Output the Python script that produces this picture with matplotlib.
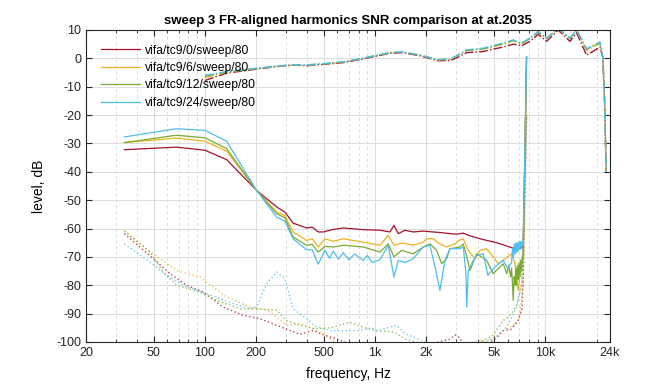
import numpy as np
import matplotlib
matplotlib.use("Agg")
import matplotlib.pyplot as plt
from matplotlib.ticker import FixedLocator, NullFormatter

plt.rcParams['font.family'] = ['Liberation Sans', 'DejaVu Sans']

labels = ["vifa/tc9/0/sweep/80", "vifa/tc9/6/sweep/80",
          "vifa/tc9/12/sweep/80", "vifa/tc9/24/sweep/80"]
colors = ["#A2142F", "#EDB120", "#77AC30", "#4DBEEE"]

# ---- harmonics SNR (solid) ----
snr0_f = [33.6, 68, 100, 134, 201, 264, 295, 330, 396, 427, 463, 497, 568, 650, 852, 1068,
          1223, 1290, 1368, 1497, 1675, 1917, 2400, 3000, 3300, 3500, 4130, 5177, 6632, 7300, 7417, 7760]
snr0_v = [-32.2, -31.3, -32.4, -35.7, -46.5, -52.4, -54.2, -58.1, -59.8, -59.5, -61.2, -61.2, -60.3, -59.8, -60.4, -60.6,
          -61.2, -58.9, -61.8, -60.6, -61.2, -60.9, -61.4, -62.0, -61.6, -62.3, -63.6, -65.0, -67.1, -66.8, -66.5, 0.5]

snr6_f = [33.6, 68, 100, 134, 201, 264, 295, 330, 396, 427, 463, 507, 568, 650, 852, 1068,
          1194, 1290, 1432, 1675, 1917, 2008, 2196, 2350, 2632, 2946, 3151, 3296, 3526, 3860, 4130,
          4520, 4944, 5290, 5660, 6340, 6632, 6786, 6937, 7097, 7260, 7417, 7760]
snr6_v = [-29.7, -28.1, -29.2, -32.7, -46.5, -54.2, -55.4, -61.2, -64.2, -63.6, -66.5, -63.6, -64.5, -63.6, -64.8, -65.9,
          -62.4, -65.9, -65.1, -65.9, -64.8, -63.6, -63.6, -65.1, -66.5, -65.4, -64.0, -63.6, -67.7, -70.6, -67.7,
          -67.1, -70.0, -72.4, -71.2, -68.9, -72.0, -78.0, -81.8, -76.0, -72.0, -70.0, 0.5]

snr12_f = [33.6, 68, 100, 134, 201, 264, 295, 330, 396, 427, 463, 507, 568, 650, 852, 1068,
           1194, 1290, 1432, 1675, 1917, 2100, 2300, 2460, 2632, 2752, 3151, 3296, 3479, 3608, 3950,
           4520, 4944, 5660, 5928, 6100, 6250, 6340, 6420, 6480, 6560, 6632, 6710, 6786, 6860, 6937,
           7020, 7097, 7180, 7260, 7340, 7417, 7760]
snr12_v = [-29.7, -27.1, -28.0, -31.8, -46.5, -54.8, -56.2, -63.0, -65.9, -65.6, -68.3, -66.3, -66.5, -65.9, -66.5, -68.3,
           -65.4, -70.0, -67.7, -68.9, -66.5, -65.4, -67.7, -72.4, -70.6, -67.1, -66.5, -65.4, -70.6, -74.8, -68.9,
           -71.2, -75.9, -72.4, -75.9, -73.0, -77.0, -74.0, -80.0, -85.3, -77.0, -80.0, -74.0, -80.0, -73.0, -78.0,
           -72.0, -77.0, -71.0, -75.0, -70.0, -70.0, 0.5]

snr24_f = [33.6, 68, 100, 134, 201, 264, 295, 330, 396, 427, 463, 507, 540, 568, 610, 650, 700, 760,
           852, 900, 960, 1068, 1194, 1290, 1368, 1497, 1675, 1917, 2100, 2250, 2404, 2573, 2752, 3151,
           3296, 3418, 3450, 3526, 3772, 3950, 4320, 4600, 4944, 5177, 5660, 6000, 6340, 6420, 6500, 6580,
           6650, 6720, 6786, 6860, 6940, 7020, 7097, 7180, 7260, 7340, 7417, 7760]
snr24_v = [-27.7, -24.8, -25.4, -29.2, -46.5, -56.0, -57.4, -63.6, -67.5, -67.5, -72.6, -67.7, -70.5, -68.0, -70.8, -68.5, -71.0, -69.0,
           -71.2, -69.5, -72.0, -71.0, -65.9, -77.1, -71.2, -72.0, -70.6, -66.5, -65.9, -73.6, -81.8, -71.2, -67.1, -67.1,
           -66.5, -75.9, -87.7, -75.0, -71.2, -69.5, -68.9, -76.5, -74.2, -73.0, -71.2, -74.0, -72.0, -67.0, -70.0, -65.5,
           -69.0, -65.0, -68.5, -65.0, -68.0, -64.5, -67.5, -64.5, -67.0, -64.5, -66.0, 0.5]

# ---- frequency response (dash-dot) ----
fr_f = [100, 134, 201, 264, 330, 396, 507, 650, 852, 932, 1222, 1462, 1834, 2320, 2752, 3014, 3450,
        4320, 4730, 5660, 6480, 7260, 8120, 9090, 10180, 11900, 13960, 15280, 17490, 20940, 21800, 22300, 22800]
fr0_v = [-7.8, -5.2, -3.8, -2.9, -2.4, -2.6, -2.1, -1.5, -0.2, 0.3, 1.8, 2.0, 0.9, -0.8, -0.8, 0.2, 2.0,
         2.4, 3.0, 4.0, 5.0, 4.4, 6.0, 8.5, 6.0, 10.0, 6.0, 9.0, 1.1, 4.0, 0.0, -15.0, -40.0]
fr6_v = [-6.8, -4.8, -3.6, -2.8, -2.3, -2.4, -1.9, -1.3, 0.0, 0.5, 2.0, 2.2, 1.1, -0.5, -0.4, 0.8, 2.7,
         3.3, 3.8, 5.0, 6.2, 5.0, 7.0, 9.3, 7.0, 10.5, 7.0, 9.9, 2.8, 5.3, 0.2, -15.0, -40.0]
fr12_v = [-6.3, -4.8, -3.6, -2.8, -2.3, -2.4, -1.9, -1.3, 0.0, 0.5, 2.0, 2.2, 1.1, -0.5, -0.3, 0.8, 2.8,
          3.4, 4.0, 5.2, 6.3, 5.2, 7.0, 9.3, 7.0, 10.5, 7.0, 9.9, 3.2, 5.6, 0.3, -15.0, -40.0]
fr24_v = [-6.0, -4.6, -3.5, -2.7, -2.2, -2.3, -1.8, -1.2, 0.1, 0.6, 2.1, 2.3, 1.2, -0.4, -0.3, 0.9, 3.0,
          3.6, 4.2, 5.4, 6.5, 5.4, 7.2, 9.5, 7.2, 10.5, 7.2, 10.0, 3.4, 5.8, 0.5, -15.0, -40.0]

# ---- noise / harmonics floor (dotted) ----
n0_f = [33.6, 49.7, 62.3, 78.1, 97.8, 128, 168, 210, 264, 362, 432, 500, 600, 700, 1000, 2000, 2750,
        2950, 3150, 3300, 4500, 5180, 5660, 6300, 6940, 7260, 7420, 7760]
n0_v = [-61.8, -70.6, -75.9, -80.0, -82.4, -87.7, -90.6, -91.8, -94.1, -97.3, -95.9, -97.5, -99.0, -100.5, -101, -101, -99.0,
        -97.5, -98.5, -101, -101, -98.5, -96.0, -95.5, -92.4, -88.8, -78.3, -20.0]
n6_f = [33.6, 49.7, 68.2, 93.6, 102, 134, 184, 231, 264, 301, 362, 432, 520, 600, 1000, 3000, 5000,
        5660, 6200, 6786, 7100, 7400, 7760]
n6_v = [-60.9, -68.9, -74.8, -77.1, -78.9, -84.1, -87.7, -88.8, -91.2, -94.1, -93.5, -95.3, -98.0, -100.5, -101, -101, -99.0,
        -96.0, -94.7, -93.5, -90.0, -80.0, -20.0]
n12_f = [33.6, 47.5, 56.9, 68.2, 93.6, 117, 161, 201, 264, 301, 362, 440, 550, 710, 850, 1000, 1300,
         1500, 2000, 4000, 4900, 5660, 6340, 6786, 7260, 7760]
n12_v = [-60.9, -68.3, -75.3, -80.0, -82.4, -85.3, -88.3, -88.3, -88.8, -92.4, -94.1, -95.3, -95.0, -93.0, -94.7, -96.0, -96.5,
         -99.0, -101, -100.5, -97.7, -92.4, -90.0, -87.0, -79.4, -20.0]
n24_f = [33.6, 47.5, 59.6, 78.1, 102, 147, 184, 201, 231, 264, 295, 330, 396, 452, 550, 800, 950,
         1025, 1332, 1500, 1800, 2200, 4500, 5180, 5928, 6786, 7260, 7760]
n24_v = [-65.4, -71.8, -76.5, -80.6, -83.0, -86.5, -88.3, -87.7, -79.4, -75.3, -77.7, -88.3, -91.8, -94.7, -96.0, -96.0, -95.0,
         -96.0, -94.1, -97.0, -99.0, -101, -100, -98.0, -94.7, -87.7, -80.0, -20.0]

snr = [(snr0_f, snr0_v), (snr6_f, snr6_v), (snr12_f, snr12_v), (snr24_f, snr24_v)]
fr = [fr0_v, fr6_v, fr12_v, fr24_v]
noise = [(n0_f, n0_v), (n6_f, n6_v), (n12_f, n12_v), (n24_f, n24_v)]

xticks = [20, 50, 100, 200, 500, 1000, 2000, 5000, 10000, 24000]
xticklabels = ["20", "50", "100", "200", "500", "1k", "2k", "5k", "10k", "24k"]
xminor = [30, 40, 60, 70, 80, 90, 300, 400, 600, 700, 800, 900, 3000, 4000, 6000, 7000, 8000, 9000, 20000]
yticks = list(range(-100, 11, 10))

fig = plt.figure(figsize=(6.72, 3.84), dpi=100)
ax = fig.add_axes([86/672, 1-342/384, 524/672, 312/384])

for (nf, nv), c in zip(noise, colors):
    ax.plot(nf, nv, linestyle=(0, (1, 1.8)), color=c, lw=1.0, alpha=0.8)
for v, c in zip(fr, colors):
    ax.plot(fr_f, v, linestyle='-.', color=c, lw=1.0)
handles = []
for (sf, sv), c, lab in zip(snr, colors, labels):
    h, = ax.plot(sf, sv, '-', color=c, lw=0.9, label=lab)
    handles.append(h)

ax.set_xscale('log')
ax.set_xlim(20, 24000)
ax.set_ylim(-100, 10)
ax.xaxis.set_major_locator(FixedLocator(xticks))
ax.set_xticklabels(xticklabels)
ax.xaxis.set_minor_locator(FixedLocator(xminor))
ax.xaxis.set_minor_formatter(NullFormatter())
ax.set_yticks(yticks)
ax.set_yticklabels([str(t) for t in yticks])

ax.grid(True, which='major', color='#dcdcdc', lw=0.7, ls='-')
ax.grid(True, which='minor', axis='x', color='#dcdcdc', lw=0.7, ls=(0, (3, 3)))
ax.set_axisbelow(True)

ax.tick_params(which='both', direction='in', top=True, right=True, labelsize=9, colors='#262626')
ax.tick_params(which='major', length=4)
ax.tick_params(which='minor', length=2)
for s in ax.spines.values():
    s.set_color('#262626')
    s.set_linewidth(0.8)

ax.set_title("sweep 3 FR-aligned harmonics SNR comparison at at.2035", fontsize=9.5,
             fontweight='bold', pad=4)
ax.set_xlabel("frequency, Hz", fontsize=10, labelpad=6)
ax.set_ylabel("level, dB", fontsize=10, labelpad=7)

ax.legend(handles=handles, loc='upper left', frameon=False, fontsize=8.7,
          handlelength=3.3, handletextpad=0.35, labelspacing=0.45,
          bbox_to_anchor=(0.0, 1.0), borderaxespad=0.8)

fig.savefig("out.png", dpi=100)
